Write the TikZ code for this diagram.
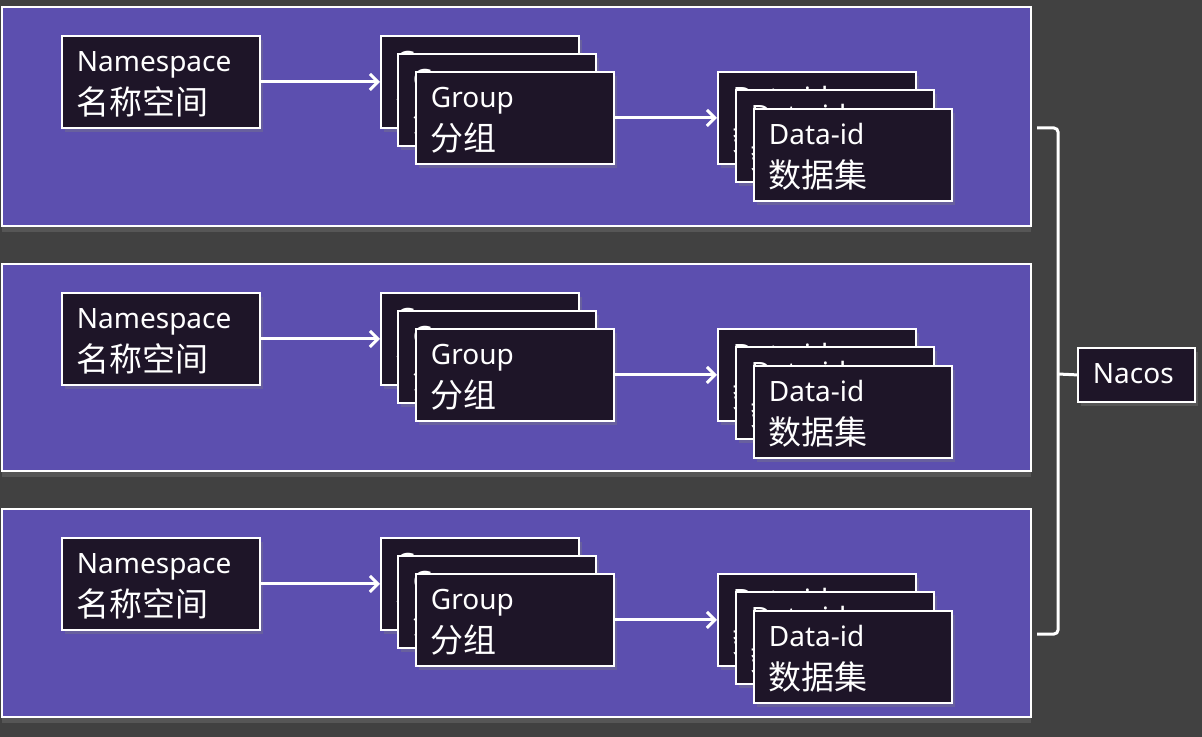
\documentclass[tikz,border=0pt]{standalone}
\usepackage{fontspec}
\setmainfont{Noto Sans}
\newfontfamily\cjk{Noto Sans CJK SC}
\usetikzlibrary{arrows.meta,shadows}

\definecolor{bggray}{HTML}{414141}
\definecolor{panelblue}{HTML}{5C4FAF}
\definecolor{boxdark}{HTML}{1E1528}

\newcommand{\zh}[1]{{\cjk\fontsize{16.5}{21.5}\selectfont #1}}

\tikzset{
  panel/.style={draw=white, line width=1pt, fill=panelblue,
    drop shadow={shadow xshift=0pt, shadow yshift=-3pt, opacity=.35}},
  card/.style={draw=white, line width=0.9pt, fill=boxdark, text=white,
    anchor=north west, align=left, inner xsep=7.5pt, inner ysep=0pt,
    text width=84pt, text height=18pt, text depth=28pt,
    font=\fontsize{14}{21.5}\selectfont,
    drop shadow={shadow xshift=1.5pt, shadow yshift=-2pt, opacity=.35}},
  flow/.style={white, line width=1.5pt,
    -{Straight Barb[length=4pt, width=8pt, line width=1.5pt]}},
  brace/.style={white, line width=1.5pt, rounded corners=2pt},
}

\begin{document}
\begin{tikzpicture}[x=0.5pt, y=-0.5pt]
  \fill[bggray] (0,0) rectangle (1202,737);
  \useasboundingbox (0,0) rectangle (1202,737);

  % one panel per namespace
  \foreach \i/\t/\b in {1/7/226, 2/264/471, 3/509/717} {
    \draw[panel] (2,\t) rectangle (1031,\b);
    \node[card] (ns\i) at (61,\t+28) {Namespace\\\zh{名称空间}};
    % group stack
    \node[card] (grpa\i) at (380,\t+28) {Group\\\zh{分组}};
    \node[card] (grpb\i) at (397,\t+46) {Group\\\zh{分组}};
    \node[card] (grpc\i) at (415,\t+64) {Group\\\zh{分组}};
    % data-id stack
    \node[card] (dataa\i) at (717,\t+64) {Data-id\\\zh{数据集}};
    \node[card] (datab\i) at (735,\t+82) {Data-id\\\zh{数据集}};
    \node[card] (datac\i) at (753,\t+101) {Data-id\\\zh{数据集}};
    \draw[flow] (ns\i.east) -- (grpa\i.west);
    \draw[flow] (grpc\i.east) -- (dataa\i.west);
  }

  \node[card, text width=43.5pt, text depth=9pt] (nacos) at (1077,347) {Nacos};

  % brace
  \coordinate (brtop) at (1037,128);
  \coordinate (brbot) at (1037,634);
  \coordinate (brmid) at (1058,374);
  \draw[brace] (brtop) -- (1058,128) -- (1058,634) -- (brbot);
  \draw[brace] (brmid) -- (nacos.west);
\end{tikzpicture}
\end{document}
